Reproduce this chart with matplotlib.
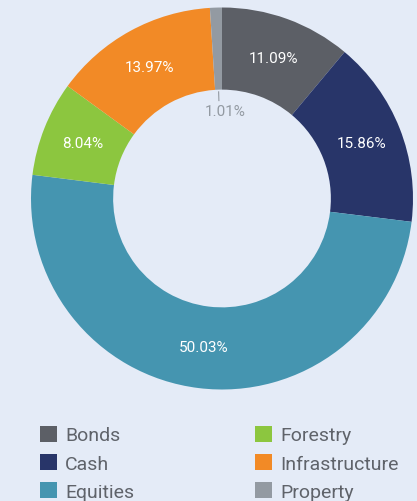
import matplotlib.pyplot as plt
from matplotlib.patches import Patch
import numpy as np

plt.rcParams['font.family'] = ['Roboto', 'DejaVu Sans']

labels = ['Bonds', 'Cash', 'Equities', 'Forestry', 'Infrastructure', 'Property']
values = [11.09, 15.86, 50.03, 8.04, 13.97, 1.01]
colors = ['#5c5f66', '#283569', '#4595b0', '#8cc63f', '#f28a26', '#939aa2']

bg = '#e4ebf7'
W, H = 417, 502
fig = plt.figure(figsize=(W / 100, H / 100), dpi=100, facecolor=bg)

# donut geometry in pixels
cx, cy, R = 222, 199.5, 191
ax = fig.add_axes([(cx - R) / W, (H - cy - R) / H, 2 * R / W, 2 * R / H])
ax.set_facecolor(bg)

width = 0.43
wedges, _ = ax.pie(values, colors=colors, startangle=90, counterclock=False,
                   radius=1, wedgeprops=dict(width=width, linewidth=0))
ax.set_aspect('equal')
ax.set_xlim(-1, 1)
ax.set_ylim(-1, 1)
ax.axis('off')

for v, w in zip(values, wedges):
    mid = np.deg2rad((w.theta1 + w.theta2) / 2)
    txt = f'{v:.2f}%'
    if v < 3:
        r0 = 1 - width
        ax.plot([r0 * 0.98 * np.cos(mid), r0 * 0.90 * np.cos(mid)],
                [r0 * 0.98 * np.sin(mid), r0 * 0.90 * np.sin(mid)],
                color='#939aa2', lw=0.8)
        ax.text(r0 * 0.80 * np.cos(mid) + 0.03, r0 * 0.80 * np.sin(mid), txt,
                ha='center', va='center', color='#939aa2', fontsize=11)
    else:
        rr = 1 - width / 2
        ax.text(rr * np.cos(mid), rr * np.sin(mid), txt, ha='center',
                va='center', color='white', fontsize=11)

handles = [Patch(facecolor=c, edgecolor='none') for c in colors]
common = dict(frameon=False, fontsize=14, handlelength=0.85, handleheight=0.85,
              handletextpad=0.45, labelspacing=0.5, labelcolor='#5f636a',
              borderaxespad=0, borderpad=0)
leg1 = fig.legend(handles[:3], labels[:3], loc='upper left',
                  bbox_to_anchor=(40 / W, 1 - 427 / H), **common)
leg2 = fig.legend(handles[3:], labels[3:], loc='upper left',
                  bbox_to_anchor=(255 / W, 1 - 427 / H), **common)

fig.savefig('out.png', dpi=100, facecolor=bg)
